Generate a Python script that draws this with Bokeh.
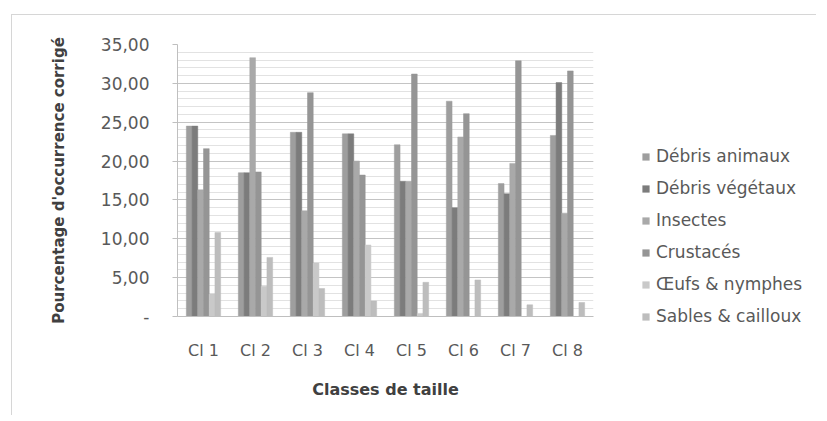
from bokeh.plotting import figure
from bokeh.models import ColumnDataSource, Legend, LegendItem, FixedTicker
from bokeh.layouts import row, column
from bokeh.transform import dodge
from bokeh.embed import file_html
from bokeh.resources import INLINE

categories = ["Cl 1", "Cl 2", "Cl 3", "Cl 4", "Cl 5", "Cl 6", "Cl 7", "Cl 8"]
debris_animaux = [24.5, 18.5, 23.7, 23.5, 22.1, 27.7, 17.1, 23.3]
debris_vegetaux = [24.5, 18.5, 23.7, 23.5, 17.4, 14.0, 15.8, 30.1]
insectes = [16.3, 33.3, 13.6, 20.0, 17.4, 23.1, 19.7, 13.3]
crustaces = [21.6, 18.6, 28.8, 18.2, 31.2, 26.1, 32.9, 31.6]
oeufs = [2.9, 3.9, 6.9, 9.2, 0.4, 0.0, 0.0, 0.0]
sables = [10.8, 7.6, 3.6, 2.0, 4.4, 4.7, 1.5, 1.8]

series_names = ["Débris animaux", "Débris végétaux", "Insectes", "Crustacés",
                "Œufs & nymphes", "Sables & cailloux"]
series_keys = ["da", "dv", "ins", "cru", "oeu", "sab"]
series_colors = ["#9e9e9e", "#7c7c7c", "#a9a9a9", "#959595", "#c9c9c9", "#bdbdbd"]

y_ticks = [0, 5, 10, 15, 20, 25, 30, 35]
y_tick_labels = ["-", "5,00", "10,00", "15,00", "20,00", "25,00", "30,00", "35,00"]

source = ColumnDataSource(dict(cat=categories, da=debris_animaux, dv=debris_vegetaux,
                               ins=insectes, cru=crustaces, oeu=oeufs, sab=sables))

FONT = "DejaVu Sans"
H = 400
p = figure(x_range=categories, y_range=(0, 35), width=629, height=H,
           output_backend="svg", toolbar_location=None,
           min_border_left=165, min_border_right=48, min_border_top=29,
           min_border_bottom=H - 301)

bw = 0.11
for i, (k, col) in enumerate(zip(series_keys, series_colors)):
    off = (i - 2.5) * bw
    p.vbar(x=dodge("cat", off, range=p.x_range), top=k, width=bw, source=source,
           fill_color=col, line_color=col, line_width=0.5)

p.xgrid.grid_line_color = None
p.ygrid.grid_line_color = "#c4c4c4"
p.ygrid.minor_grid_line_color = "#e2e2e2"
p.yaxis.ticker = FixedTicker(ticks=y_ticks, minor_ticks=list(range(0, 36)))
p.yaxis.major_label_overrides = {t: l for t, l in zip(y_ticks, y_tick_labels)}
p.yaxis.minor_tick_line_color = None
p.yaxis.major_tick_out = 5
p.yaxis.major_tick_in = 0
p.yaxis.major_tick_line_color = "#bfbfbf"
p.yaxis.axis_line_color = "#bfbfbf"
p.yaxis.major_label_standoff = 23
p.yaxis.major_label_text_font = FONT
p.yaxis.major_label_text_font_size = "17px"
p.yaxis.major_label_text_color = "#595959"
p.yaxis.axis_label = "Pourcentage d'occurrence corrigé"
p.yaxis.axis_label_text_font = FONT
p.yaxis.axis_label_text_font_size = "15px"
p.yaxis.axis_label_text_font_style = "bold"
p.yaxis.axis_label_text_color = "#404040"
p.yaxis.axis_label_standoff = 30

p.xaxis.axis_line_color = "#bfbfbf"
p.xaxis.major_tick_line_color = None
p.xaxis.minor_tick_line_color = None
p.xaxis.major_label_standoff = 18
p.xaxis.major_label_text_font = FONT
p.xaxis.major_label_text_font_size = "16px"
p.xaxis.major_label_text_color = "#595959"
p.xaxis.axis_label = "Classes de taille"
p.xaxis.axis_label_text_font = FONT
p.xaxis.axis_label_text_font_size = "16px"
p.xaxis.axis_label_text_font_style = "bold"
p.xaxis.axis_label_text_color = "#404040"
p.xaxis.axis_label_standoff = 17

p.outline_line_color = None
p.x_range.range_padding = 0

# legend panel (second figure; legend placed in its left side panel)
lg = figure(width=175, height=H, x_range=(0, 1), y_range=(0, 1),
            x_axis_type=None, y_axis_type=None, min_border=0,
            min_border_left=0, min_border_right=0, min_border_top=29,
            min_border_bottom=H - 311,
            output_backend="svg", toolbar_location=None)
lg.outline_line_color = None
lg.xgrid.visible = False
lg.ygrid.visible = False
items = []
for name, col in zip(series_names, series_colors):
    dummy = ColumnDataSource(dict(x=[0], top=[0]))
    r = lg.vbar(x="x", top="top", width=0.01, source=dummy,
                fill_color=col, line_color=None)
    items.append(LegendItem(label=name, renderers=[r]))
legend = Legend(items=items, location="bottom_left", orientation="vertical",
                label_text_font=FONT, label_text_font_size="17px",
                label_text_color="#595959", glyph_width=9, glyph_height=9,
                label_height=10, spacing=12, padding=0, margin=0,
                border_line_color=None, background_fill_alpha=0,
                label_standoff=6)
lg.add_layout(legend, "left")

layout = row(p, column(lg, spacing=0), spacing=0)
layout.styles = {"position": "relative", "left": "11px", "top": "14px",
                 "border-left": "1px solid #d6d6d6", "border-top": "1px solid #d6d6d6"}

open("out.html", "w").write(file_html(layout, INLINE))
